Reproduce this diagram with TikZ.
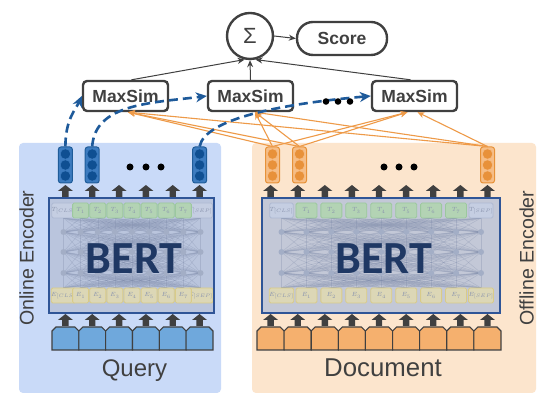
\documentclass[tikz,border=0pt]{standalone}
\usepackage{fontspec}
\setmainfont{Liberation Sans}
\newfontfamily\bertfont{Carlito}
\usetikzlibrary{arrows.meta}

\definecolor{txt}{HTML}{404040}
\definecolor{qpanel}{HTML}{C9DAF8}
\definecolor{dpanel}{HTML}{FCE5CD}
\definecolor{bertborder}{HTML}{2F5597}
\definecolor{bertfillL}{HTML}{BAC5DD}
\definecolor{bertfillR}{HTML}{C3C8D7}
\definecolor{netcol}{HTML}{7F8CAB}
\definecolor{netnodecol}{HTML}{A3AEC6}
\definecolor{tgreen}{HTML}{B3D3B4}
\definecolor{tgreenb}{HTML}{9CC89E}
\definecolor{tcls}{HTML}{C5CEE2}
\definecolor{tclsb}{HTML}{AEB9D2}
\definecolor{efill}{HTML}{DCD7B6}
\definecolor{efillb}{HTML}{D9CB88}
\definecolor{lblcol}{HTML}{8A94AE}
\definecolor{qtok}{HTML}{6FA8DC}
\definecolor{dtok}{HTML}{F5B06E}
\definecolor{qvecfill}{HTML}{3D7CC0}
\definecolor{qvecborder}{HTML}{1F5C99}
\definecolor{qvecdot}{HTML}{0F4F92}
\definecolor{dvecfill}{HTML}{F6BE88}
\definecolor{dvecborder}{HTML}{E69138}
\definecolor{dvecdot}{HTML}{E8913A}
\definecolor{dashcol}{HTML}{1E5A9A}
\definecolor{orangeline}{HTML}{EE9A48}
\definecolor{berttext}{HTML}{1F3864}

\tikzset{
  panel/.style={rounded corners=4pt, draw=none},
  bertbox/.style={draw=bertborder, line width=1.6pt},
  netline/.style={draw=netcol, line width=0.5pt, opacity=0.32},
  netnode/.style={fill=netnodecol},
  tokbase/.style={rectangle, rounded corners=1.5pt, line width=0.8pt, minimum height=15pt, inner sep=0pt,
    text=lblcol, font=\fontsize{6}{6}\selectfont},
  tokT/.style={tokbase, draw=tgreenb, fill=tgreen},
  tokC/.style={tokbase, draw=tclsb, fill=tcls},
  tokE/.style={tokbase, draw=efillb, fill=efill},
  blockarrow/.style={fill=txt},
  inputtok/.style={draw=txt, line width=1.1pt},
  qvec/.style={rectangle, rounded corners=2.5pt, minimum width=14pt, minimum height=36pt, inner sep=0pt,
    draw=qvecborder, fill=qvecfill, line width=1pt},
  dvec/.style={rectangle, rounded corners=2.5pt, minimum width=14pt, minimum height=36pt, inner sep=0pt,
    draw=dvecborder, fill=dvecfill, line width=1pt},
  qdot/.style={fill=qvecdot, draw=qvecfill, line width=0.5pt},
  ddot/.style={fill=dvecdot, draw=dvecfill, line width=0.5pt},
  maxsim/.style={rectangle, rounded corners=4pt, draw=txt, line width=2.4pt, fill=white,
    minimum width=85pt, minimum height=30pt, inner sep=0pt, text=txt,
    font=\fontsize{17.5}{18}\selectfont\bfseries},
  sumnode/.style={circle, draw=txt, line width=2.4pt, minimum size=46pt, inner sep=0pt, text=txt,
    font=\fontsize{22}{22}\selectfont},
  scorenode/.style={rectangle, rounded corners=16pt, draw=txt, line width=2.4pt, minimum width=90pt,
    minimum height=33pt, inner sep=0pt, text=txt, font=\fontsize{17.5}{18}\selectfont\bfseries},
  sumline/.style={draw=txt, line width=1pt, -{Stealth[length=7pt,width=6pt]}},
  docline/.style={draw=orangeline, line width=1.1pt, -{Stealth[length=7pt,width=6pt]}},
  qdash/.style={draw=dashcol, line width=2.6pt, dash pattern=on 9pt off 5pt,
    -{Stealth[length=11pt,width=10pt]}},
  bigdot/.style={fill=black},
  label/.style={text=txt, inner sep=0pt},
  berttxt/.style={text=berttext, inner sep=0pt, font=\bertfont\fontsize{46}{46}\selectfont\bfseries},
}

\newcommand{\drawbertnet}[4]{% #1 prefix, #2 first x, #3 step, #4 box width
  \foreach \i in {0,...,8}{
    \foreach \j in {0,...,8}{
      \draw[netline] ({#2+#3*\i},121) -- ({#2+#3*\j},136);
      \draw[netline] ({#2+#3*\i},136) -- ({#2+#3*\j},157);
      \draw[netline] ({#2+#3*\i},157) -- ({#2+#3*\j},177);
      \draw[netline] ({#2+#3*\i},177) -- ({#2+#3*\j},191);
    }
  }
  \foreach \i in {0,...,8}{
    \foreach \yy in {136,157,177}{
      \fill[netnode] ({#2+#3*\i},\yy) circle (3);
    }
  }
  \node[tokC, minimum width=#4] (#1T0) at ({#2},198.5) {$T_{[CLS]}$};
  \node[tokC, minimum width=#4] (#1T8) at ({#2+#3*8},198.5) {$T_{[SEP]}$};
  \node[tokE, minimum width=#4] (#1E0) at ({#2},113.5) {$E_{[CLS]}$};
  \node[tokE, minimum width=#4] (#1E8) at ({#2+#3*8},113.5) {$E_{[SEP]}$};
  \foreach \i in {1,...,7}{
    \node[tokT, minimum width=#4] (#1T\i) at ({#2+#3*\i},198.5) {$T_{\i}$};
    \node[tokE, minimum width=#4] (#1E\i) at ({#2+#3*\i},113.5) {$E_{\i}$};
  }
}

\newcommand{\blockarr}[2]{% x, base y
  \fill[blockarrow] ({#1-3.2},#2) -- ({#1+3.2},#2) -- ({#1+3.2},{#2+6}) -- ({#1+7.5},{#2+6})
    -- ({#1},{#2+12}) -- ({#1-7.5},{#2+6}) -- ({#1-3.2},{#2+6}) -- cycle;
}

\newcommand{\inputbox}[3]{% left x, width, fill colour
  \filldraw[inputtok, fill=#3] ({#1},59) -- ({#1+#2},59) -- ({#1+#2},78) -- ({#1+#2-4},82)
    -- ({#1+4},82) -- ({#1},78) -- cycle;
}

\begin{document}
\begin{tikzpicture}[x=1pt,y=1pt]
\useasboundingbox (0,0) rectangle (554,409);
\fill[white] (0,0) rectangle (554,409);

% panels
\fill[panel, qpanel] (19,16) rectangle (221,266);
\fill[panel, dpanel] (252,16) rectangle (536,266);

% BERT boxes
\fill[bertfillL] (49,96) rectangle (214,211);
\fill[bertfillR] (262,96) rectangle (500,211);
\drawbertnet{L}{63.5}{17.125}{16pt}
\drawbertnet{R}{281.5}{24.94}{21pt}
\node[berttxt] (bertL) at (134,150) {BERT};
\node[berttxt] (bertR) at (383.5,150) {BERT};
\draw[bertbox] (49,96) rectangle (214,211);
\draw[bertbox] (262,96) rectangle (500,211);

% block arrows
\foreach \k in {0,...,5}{
  \blockarr{65.4+26.83*\k}{212}
  \blockarr{65.4+26.83*\k}{83}
}
\foreach \k in {0,...,8}{
  \blockarr{270.6+27.11*\k}{212}
  \blockarr{270.6+27.11*\k}{83}
}

% input tokens
\foreach \k in {0,...,5}{ \inputbox{52+26.83*\k}{26.83}{qtok} }
\foreach \k in {0,...,8}{ \inputbox{257+27.11*\k}{27.11}{dtok} }

% labels
\node[label, font=\fontsize{24}{24}\selectfont, anchor=base] (qlab) at (134.5,32) {Query};
\node[label, font=\fontsize{25.8}{26}\selectfont, anchor=base] (dlab) at (383,32) {Document};
\node[label, font=\fontsize{19.6}{20}\selectfont, rotate=90] (onl) at (26.5,151) {Online Encoder};
\node[label, font=\fontsize{19.6}{20}\selectfont, rotate=90] (offl) at (526.5,151) {Offline Encoder};

% embedding vectors
\foreach \n/\x in {q1/65.4, q2/92.2, q3/199.6}{
  \node[qvec] (\n) at (\x,244) {};
  \foreach \dy in {-11,0,11}{ \filldraw[qdot] (\x,244+\dy) circle (5.2); }
}
\foreach \n/\x in {d1/272.5, d2/299.5, d3/487.5}{
  \node[dvec] (\n) at (\x,244) {};
  \foreach \dy in {-11,0,11}{ \filldraw[ddot] (\x,244+\dy) circle (5.2); }
}
\foreach \x in {130,146,161}{ \fill[bigdot] (\x,242) circle (3.5); }
\foreach \x in {384,399,414}{ \fill[bigdot] (\x,242) circle (3.5); }

% top nodes
\node[sumnode] (s) at (250,373) {Σ};
\node[scorenode] (sc) at (342,370.5) {Score};
\node[maxsim] (m1) at (125.5,313) {MaxSim};
\node[maxsim] (m2) at (250.5,313) {MaxSim};
\node[maxsim] (m3) at (414.5,313) {MaxSim};

% orange document connectors
\foreach \d in {d1,d2,d3}{
  \draw[docline] (\d.north) -- ([xshift=2.5pt]m1.south);
  \draw[docline] (\d.north) -- ([xshift=4.5pt]m2.south);
}
\draw[docline] (d1.north) -- ([xshift=-7pt]m3.south);
\draw[docline] (d2.north) -- ([xshift=-7pt]m3.south);
\draw[docline] (d3.north) -- ([xshift=3pt]m3.south);

% sum connectors
\draw[sumline] ([xshift=6pt]m1.north) -- (s.-103);
\draw[sumline] (m2.north) -- (s.south);
\draw[sumline] ([xshift=-4pt]m3.north) -- (s.-77);
\draw[sumline] (s.east) -- (sc.west);

% query dashed connectors
\draw[qdash] (q1.north) .. controls (65.4,290) and (76,300) .. (m1.west);
\draw[qdash] (q2.north) .. controls (95,305) and (150,306) .. (m2.west);
\draw[qdash] (q3.north) .. controls (205,290) and (280,305) .. (m3.west);
\foreach \x in {326,338,350}{ \fill[bigdot] (\x,307.5) circle (3.3); }

\end{tikzpicture}
\end{document}
